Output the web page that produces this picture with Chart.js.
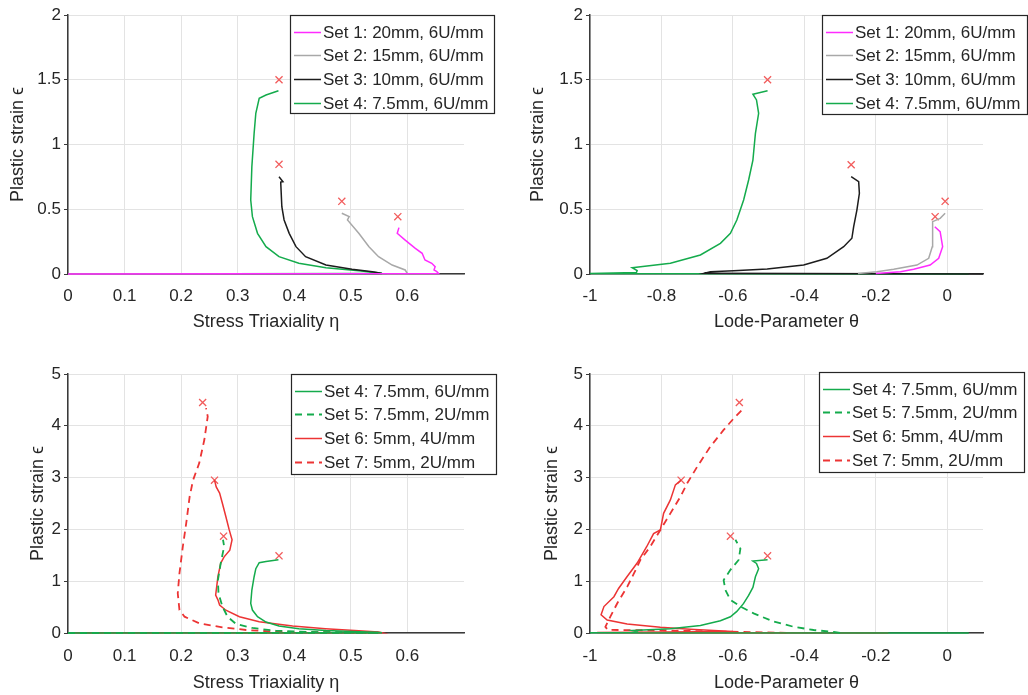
<!DOCTYPE html>
<html>
<head>
<meta charset="utf-8">
<script src="https://cdn.jsdelivr.net/npm/chart.js@4"></script>
<style>
  html, body { margin: 0; padding: 0; background: #fff; }
  #wrap { position: relative; width: 1028px; height: 695px; overflow: hidden; }
  canvas { position: absolute; }
</style>
</head>
<body>
<div id="wrap">
  <canvas id="c1" width="514" height="340" style="left:0;top:0;width:514px;height:340px"></canvas>
  <canvas id="c2" width="508" height="340" style="left:520px;top:0;width:508px;height:340px"></canvas>
  <canvas id="c3" width="514" height="350" style="left:0;top:345px;width:514px;height:350px"></canvas>
  <canvas id="c4" width="508" height="350" style="left:520px;top:345px;width:508px;height:350px"></canvas>
</div>
<script>
(function () {
    'use strict';

    // tick labels
    var etaTicks = [0, 0.1, 0.2, 0.3, 0.4, 0.5, 0.6];
    var lodeTicks = [-1, -0.8, -0.6, -0.4, -0.2, 0];
    var strainTicksTop = [0, 0.5, 1, 1.5, 2];
    var strainTicksBottom = [0, 1, 2, 3, 4, 5];

    // series labels
    var labels = {
        s1: 'Set 1: 20mm, 6U/mm',
        s2: 'Set 2: 15mm, 6U/mm',
        s3: 'Set 3: 10mm, 6U/mm',
        s4: 'Set 4: 7.5mm, 6U/mm',
        s5: 'Set 5: 7.5mm, 2U/mm',
        s6: 'Set 6: 5mm, 4U/mm',
        s7: 'Set 7: 5mm, 2U/mm'
    };

    // [triaxiality, plastic strain]
    var set1Eta = [[0, 0], [0.655, 0.003], [0.652, 0.018], [0.647, 0.032], [0.649, 0.056], [0.643, 0.083], [0.631, 0.108], [0.626, 0.16], [0.614, 0.198], [0.596, 0.262], [0.582, 0.314], [0.585, 0.358]];
    var set2Eta = [[0, 0], [0.6, 0.003], [0.596, 0.031], [0.573, 0.069], [0.549, 0.134], [0.532, 0.211], [0.514, 0.314], [0.494, 0.417], [0.497, 0.443], [0.484, 0.469]];
    var set3Eta = [[0, 0], [0.555, 0.004], [0.538, 0.018], [0.502, 0.036], [0.456, 0.069], [0.42, 0.134], [0.403, 0.211], [0.391, 0.314], [0.382, 0.417], [0.378, 0.52], [0.376, 0.71], [0.38, 0.713], [0.373, 0.751]];
    var set4Eta = [[0, 0], [0.555, 0.003], [0.549, 0.01], [0.514, 0.026], [0.456, 0.049], [0.408, 0.083], [0.373, 0.134], [0.35, 0.211], [0.335, 0.314], [0.326, 0.443], [0.323, 0.571], [0.325, 0.829], [0.329, 1.086], [0.332, 1.241], [0.338, 1.357], [0.35, 1.382], [0.372, 1.415]];
    var set5Eta = [[0, 0], [0.55, 0.005], [0.426, 0.02], [0.367, 0.044], [0.326, 0.097], [0.297, 0.174], [0.282, 0.315], [0.273, 0.51], [0.266, 0.77], [0.265, 1.02], [0.27, 1.35], [0.276, 1.67], [0.274, 1.8]];
    var set6Eta = [[0, 0], [0.555, 0.005], [0.549, 0.02], [0.514, 0.044], [0.455, 0.083], [0.397, 0.135], [0.338, 0.218], [0.303, 0.315], [0.279, 0.44], [0.268, 0.54], [0.265, 0.64], [0.261, 0.73], [0.265, 1.09], [0.27, 1.35], [0.276, 1.47], [0.286, 1.6], [0.29, 1.8], [0.285, 1.99], [0.279, 2.25], [0.273, 2.5], [0.268, 2.7], [0.262, 2.82], [0.259, 2.95]];
    var set7Eta = [[0, 0], [0.55, 0.005], [0.367, 0.025], [0.315, 0.058], [0.273, 0.11], [0.232, 0.187], [0.206, 0.315], [0.197, 0.444], [0.194, 0.766], [0.197, 1.15], [0.203, 1.67], [0.209, 2.12], [0.215, 2.63], [0.221, 2.95], [0.232, 3.28], [0.241, 3.73], [0.247, 4.18], [0.244, 4.34]];

    // [lode parameter, plastic strain]
    var set1Lode = [[-0.2, 0.003], [-0.131, 0.018], [-0.094, 0.036], [-0.048, 0.069], [-0.024, 0.121], [-0.013, 0.211], [-0.02, 0.327], [-0.035, 0.365]];
    var set2Lode = [[-0.25, 0.003], [-0.197, 0.018], [-0.15, 0.036], [-0.085, 0.069], [-0.052, 0.121], [-0.042, 0.211], [-0.042, 0.365], [-0.04, 0.404], [-0.02, 0.43], [-0.006, 0.469]];
    var set3Lode = [[0.1, 0], [-0.68, 0.006], [-0.663, 0.018], [-0.598, 0.026], [-0.504, 0.039], [-0.402, 0.069], [-0.337, 0.121], [-0.29, 0.211], [-0.267, 0.276], [-0.262, 0.365], [-0.253, 0.494], [-0.246, 0.623], [-0.248, 0.713], [-0.269, 0.751]];
    var set4Lode = [[0.06, 0], [-1, 0.003], [-0.87, 0.012], [-0.868, 0.026], [-0.882, 0.049], [-0.775, 0.083], [-0.691, 0.147], [-0.635, 0.237], [-0.607, 0.314], [-0.589, 0.417], [-0.57, 0.571], [-0.556, 0.726], [-0.544, 0.88], [-0.537, 1.086], [-0.528, 1.241], [-0.534, 1.344], [-0.544, 1.388], [-0.503, 1.415]];
    var set5Lode = [[-0.3, 0.003], [-0.318, 0.02], [-0.374, 0.058], [-0.43, 0.12], [-0.486, 0.22], [-0.542, 0.38], [-0.579, 0.51], [-0.607, 0.64], [-0.621, 0.83], [-0.626, 1.02], [-0.607, 1.22], [-0.584, 1.41], [-0.579, 1.63], [-0.593, 1.8]];
    var set6Lode = [[-0.165, 0], [-0.98, 0.008], [-0.6, 0.03], [-0.72, 0.07], [-0.803, 0.11], [-0.896, 0.174], [-0.952, 0.25], [-0.969, 0.35], [-0.961, 0.51], [-0.933, 0.7], [-0.92, 0.86], [-0.896, 1.09], [-0.868, 1.35], [-0.841, 1.67], [-0.822, 1.92], [-0.803, 1.99], [-0.794, 2.31], [-0.775, 2.57], [-0.761, 2.86], [-0.745, 2.95]];
    var set7Lode = [[-0.45, 0.003], [-0.8, 0.05], [-0.95, 0.06], [-0.957, 0.12], [-0.943, 0.315], [-0.924, 0.57], [-0.896, 0.89], [-0.877, 1.15], [-0.859, 1.41], [-0.831, 1.67], [-0.803, 1.99], [-0.775, 2.31], [-0.747, 2.63], [-0.728, 2.89], [-0.7, 3.21], [-0.663, 3.6], [-0.626, 3.92], [-0.598, 4.14], [-0.574, 4.31]];

    // failure points (red crosses)
    var failEtaTop = [[0.373, 1.5], [0.373, 0.847], [0.484, 0.561], [0.583, 0.443]];
    var failLodeTop = [[-0.503, 1.5], [-0.269, 0.844], [-0.006, 0.561], [-0.034, 0.443]];
    var failEtaBottom = [[0.238, 4.45], [0.259, 2.95], [0.275, 1.87], [0.373, 1.49]];
    var failLodeBottom = [[-0.582, 4.45], [-0.745, 2.95], [-0.607, 1.87], [-0.503, 1.49]];

    var magenta = '#ff2bff';
    var gray = '#a8a8a8';
    var black = '#1c1c1c';
    var green = '#14ab4c';
    var red = '#ec3434';
    var crossColor = '#f25c5c';
    var gridColor = '#e3e3e3';
    var axisColor = '#3a3a3a';
    var textColor = '#262626';
    var dash = [7, 5];

    Chart.defaults.font.family = '"Liberation Sans", Arial, sans-serif';

    function pts(arr) {
        return arr.map(function (p) {
            return { x: p[0], y: p[1] };
        });
    }

    function line(label, arr, color, dashed) {
        return {
            label: label,
            data: pts(arr),
            showLine: true,
            clip: false,
            borderColor: color,
            backgroundColor: color,
            borderWidth: dashed ? 1.8 : 1.5,
            borderDash: dashed ? dash : [],
            pointRadius: 0,
            tension: 0
        };
    }

    function crosses(arr) {
        return {
            data: pts(arr),
            showLine: false,
            pointStyle: 'crossRot',
            pointRadius: 5,
            borderColor: crossColor,
            borderWidth: 1.3,
            backgroundColor: crossColor
        };
    }

    var insetLegend = {
        id: 'insetLegend',
        afterDraw: function (chart, args, opts) {
            var ctx = chart.ctx;
            var b = opts.box;
            ctx.save();
            ctx.fillStyle = '#ffffff';
            ctx.fillRect(b.x, b.y, b.w, b.h);
            ctx.strokeStyle = '#262626';
            ctx.lineWidth = 1.2;
            ctx.strokeRect(b.x + 0.5, b.y + 0.5, b.w, b.h);
            ctx.font = '17px "Liberation Sans", Arial, sans-serif';
            ctx.textBaseline = 'middle';
            var items = chart.data.datasets.filter(function (d) {
                return d.label;
            });
            items.forEach(function (d, i) {
                var y = Math.round(b.y + opts.first + i * opts.row) + 0.5;
                ctx.beginPath();
                ctx.strokeStyle = d.borderColor;
                ctx.lineWidth = d.borderWidth;
                ctx.setLineDash(d.borderDash || []);
                ctx.moveTo(b.x + 4, y);
                ctx.lineTo(b.x + 31, y);
                ctx.stroke();
                ctx.setLineDash([]);
                ctx.fillStyle = textColor;
                ctx.fillText(d.label, b.x + 33, y + 1);
            });
            ctx.restore();
        }
    };

    function tickSetter(values) {
        return function (scale) {
            scale.ticks = values.map(function (v) {
                return { value: v };
            });
        };
    }

    function build(id, cfg) {
        return new Chart(document.getElementById(id), {
            type: 'scatter',
            data: { datasets: cfg.datasets },
            options: {
                responsive: false,
                animation: false,
                events: [],
                layout: { padding: { top: cfg.padTop, right: cfg.padRight, left: 0, bottom: 0 } },
                plugins: {
                    legend: { display: false },
                    tooltip: { enabled: false },
                    insetLegend: { box: cfg.legendBox, first: 16.5, row: 23.7 }
                },
                scales: {
                    x: {
                        type: 'linear',
                        min: cfg.xMin,
                        max: cfg.xMax,
                        afterBuildTicks: tickSetter(cfg.xTicks),
                        afterFit: function (s) {
                            s.height = cfg.xHeight;
                        },
                        grid: { color: gridColor, lineWidth: 1, drawTicks: false },
                        border: { color: axisColor, width: 1.5 },
                        ticks: {
                            autoSkip: false,
                            maxRotation: 0,
                            padding: cfg.xTickPad,
                            color: textColor,
                            font: { size: 17 },
                            callback: function (v) {
                                return String(v);
                            }
                        },
                        title: {
                            display: true,
                            text: cfg.xTitle,
                            color: textColor,
                            font: { size: 18 },
                            padding: { top: 0, bottom: cfg.xTitlePad }
                        }
                    },
                    y: {
                        type: 'linear',
                        min: cfg.yMin,
                        max: cfg.yMax,
                        afterBuildTicks: tickSetter(cfg.yTicks),
                        afterFit: function (s) {
                            s.width = cfg.yWidth;
                        },
                        grid: { color: gridColor, lineWidth: 1, drawTicks: true, tickLength: 4, tickColor: axisColor },
                        border: { color: axisColor, width: 1.5 },
                        ticks: {
                            autoSkip: false,
                            padding: 3,
                            color: textColor,
                            font: { size: 17 },
                            callback: function (v) {
                                return String(v);
                            }
                        },
                        title: {
                            display: true,
                            text: 'Plastic strain \u03f5',
                            color: textColor,
                            font: { size: 18 },
                            padding: { top: cfg.yTitlePad, bottom: 0 }
                        }
                    }
                }
            },
            plugins: [insetLegend]
        });
    }

    build('c1', {
        datasets: [
            line(labels.s1, set1Eta, magenta),
            line(labels.s2, set2Eta, gray),
            line(labels.s3, set3Eta, black),
            line(labels.s4, set4Eta, green),
            crosses(failEtaTop)
        ],
        xMin: 0, xMax: 0.7, xTicks: etaTicks, xTitle: 'Stress Triaxiality \u03b7',
        yMin: 0, yMax: 2, yTicks: strainTicksTop,
        padTop: 15, padRight: 50, yWidth: 68, xHeight: 66,
        xTickPad: 12, xTitlePad: 7, yTitlePad: 7,
        legendBox: { x: 290, y: 15, w: 204, h: 98 }
    });

    build('c2', {
        datasets: [
            line(labels.s1, set1Lode, magenta),
            line(labels.s2, set2Lode, gray),
            line(labels.s3, set3Lode, black),
            line(labels.s4, set4Lode, green),
            crosses(failLodeTop)
        ],
        xMin: -1, xMax: 0.1, xTicks: lodeTicks, xTitle: 'Lode-Parameter \u03b8',
        yMin: 0, yMax: 2, yTicks: strainTicksTop,
        padTop: 15, padRight: 45, yWidth: 70, xHeight: 66,
        xTickPad: 12, xTitlePad: 7, yTitlePad: 7,
        legendBox: { x: 302, y: 15, w: 205, h: 99 }
    });

    build('c3', {
        datasets: [
            line(labels.s4, set4Eta, green),
            line(labels.s5, set5Eta, green, true),
            line(labels.s6, set6Eta, red),
            line(labels.s7, set7Eta, red, true),
            crosses(failEtaBottom)
        ],
        xMin: 0, xMax: 0.7, xTicks: etaTicks, xTitle: 'Stress Triaxiality \u03b7',
        yMin: 0, yMax: 5, yTicks: strainTicksBottom,
        padTop: 29, padRight: 50, yWidth: 68, xHeight: 62,
        xTickPad: 13, xTitlePad: 1, yTitlePad: 27,
        legendBox: { x: 291, y: 29, w: 205, h: 100 }
    });

    build('c4', {
        datasets: [
            line(labels.s4, set4Lode, green),
            line(labels.s5, set5Lode, green, true),
            line(labels.s6, set6Lode, red),
            line(labels.s7, set7Lode, red, true),
            crosses(failLodeBottom)
        ],
        xMin: -1, xMax: 0.1, xTicks: lodeTicks, xTitle: 'Lode-Parameter \u03b8',
        yMin: 0, yMax: 5, yTicks: strainTicksBottom,
        padTop: 29, padRight: 45, yWidth: 70, xHeight: 62,
        xTickPad: 13, xTitlePad: 1, yTitlePad: 21,
        legendBox: { x: 299, y: 27, w: 205, h: 100 }
    });
})();
</script>
</body>
</html>
